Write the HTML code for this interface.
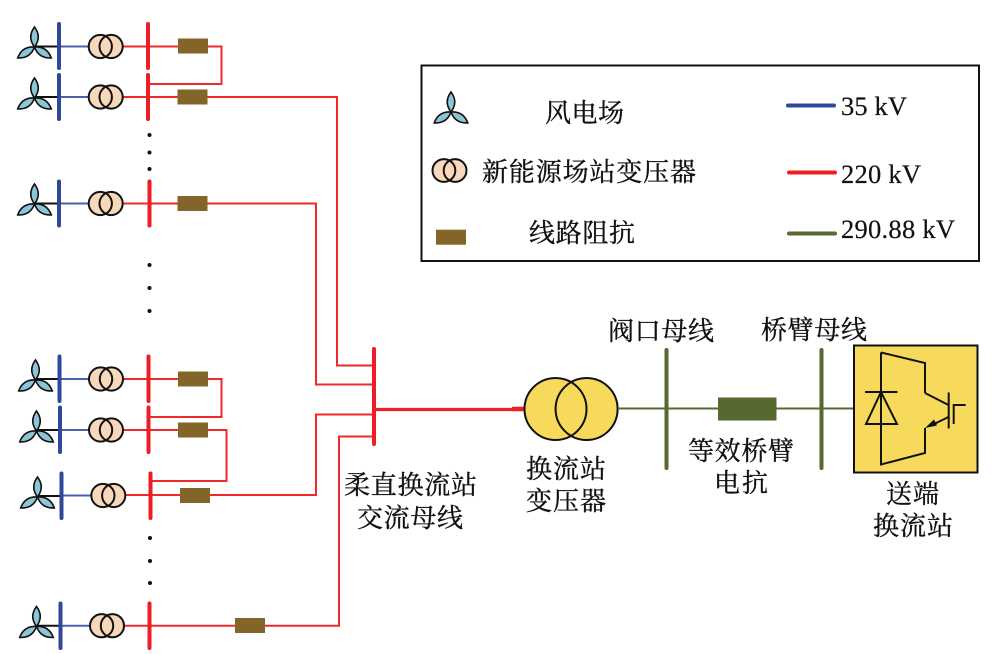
<!DOCTYPE html>
<html lang="zh">
<head>
<meta charset="utf-8">
<style>
html,body{margin:0;padding:0;background:#fff;width:997px;height:654px;overflow:hidden}
svg{display:block}
.cn{font-family:"Liberation Serif","Noto Serif CJK SC",serif;font-size:26px;fill:#111;stroke:#111;stroke-width:.35}
.en{font-family:"Liberation Serif","Noto Serif CJK SC",serif;font-size:26.5px;fill:#111;stroke:#111;stroke-width:.2}
.r{stroke:#ee2a2a;stroke-width:2;fill:none}
.rb{stroke:#ee1c25;stroke-width:4;stroke-linecap:round;fill:none}
.bb{stroke:#2f489c;stroke-width:4;stroke-linecap:round;fill:none}
.bt{stroke:#4a62ae;stroke-width:2;fill:none}
.k{stroke:#111;stroke-width:2;fill:none}
.ol{stroke:#56692f;stroke-width:2;fill:none}
.olb{stroke:#56692f;stroke-width:4;stroke-linecap:round;fill:none}
.box{fill:#83652a}
</style>
</head>
<body>
<svg width="997" height="654" viewBox="0 0 997 654" xmlns="http://www.w3.org/2000/svg">
<defs>
<g id="w">
  <g fill="#8cc5d6" stroke="#111" stroke-width="1.6">
    <path d="M0,0 Q-7.5,-10 0,-20 Q7.5,-10 0,0Z"/>
    <path d="M0,0 Q-7.5,-10 0,-20 Q7.5,-10 0,0Z" transform="rotate(-123)"/>
    <path d="M0,0 Q-7.5,-10 0,-20 Q7.5,-10 0,0Z" transform="rotate(123)"/>
  </g>
</g>
<g id="t">
  <circle cx="-5.4" cy="0" r="11.6" fill="#f8d8bb"/>
  <circle cx="5.4" cy="0" r="11.6" fill="#f8d8bb"/>
  <circle cx="-5.4" cy="0" r="11.6" fill="none" stroke="#111" stroke-width="2"/>
  <circle cx="5.4" cy="0" r="11.6" fill="none" stroke="#111" stroke-width="2"/>
</g>
</defs>

<!-- thin wires -->
<path class="r" d="M123,46.5H208H221.5V84H148"/>
<path class="r" d="M123,97H337V365.5H374"/>
<path class="r" d="M123,203.5H316V384.5H374"/>
<path class="r" d="M123,379H221.5V417H148"/>
<path class="r" d="M123,430H226.5V481H151"/>
<path class="r" d="M125,495H316V414.5H374"/>
<path class="r" d="M124,625.7H339V436.5H374"/>

<!-- row 1 -->
<path class="k" d="M34.5,46.5H59"/><path class="bt" d="M59,46.5H90"/>
<use href="#w" x="34.5" y="47"/><use href="#t" x="105.7" y="46.5"/>
<path class="bb" d="M59,24V68"/><path class="rb" d="M148,24V68"/>
<rect class="box" x="178" y="38.5" width="30" height="15"/>
<!-- row 2 -->
<path class="k" d="M34.5,97H59"/><path class="bt" d="M59,97H90"/>
<use href="#w" x="34.5" y="98"/><use href="#t" x="105.7" y="97"/>
<path class="bb" d="M59,75V119"/><path class="rb" d="M148,75V119"/>
<rect class="box" x="177.5" y="89.5" width="30" height="15"/>
<!-- row 3 -->
<path class="k" d="M34.5,203.5H59"/><path class="bt" d="M59,203.5H90"/>
<use href="#w" x="34.5" y="204"/><use href="#t" x="105.7" y="203.5"/>
<path class="bb" d="M59,181.5V225.5"/><path class="rb" d="M149.5,181.5V225.5"/>
<rect class="box" x="177.5" y="196" width="30" height="15"/>
<!-- row 4 -->
<path class="k" d="M35,379H59"/><path class="bt" d="M59,379H90"/>
<use href="#w" x="35.5" y="380"/><use href="#t" x="106" y="379"/>
<path class="bb" d="M59.5,356.5V401"/><path class="rb" d="M148.5,356.5V401"/>
<rect class="box" x="178" y="371.5" width="30" height="15"/>
<!-- row 5 -->
<path class="k" d="M36,430H60"/><path class="bt" d="M60,430H90"/>
<use href="#w" x="36.5" y="431"/><use href="#t" x="106" y="430"/>
<path class="bb" d="M60,407.5V452"/><path class="rb" d="M148.5,407.5V452"/>
<rect class="box" x="178" y="422.5" width="30" height="15"/>
<!-- row 6 -->
<path class="k" d="M37,496H61"/><path class="bt" d="M61,495.5H92"/>
<use href="#w" x="37.5" y="497"/><use href="#t" x="108.3" y="495.5"/>
<path class="bb" d="M61.5,473.5V518"/><path class="rb" d="M150.5,473.5V518"/>
<rect class="box" x="180" y="488" width="30" height="15"/>
<!-- row 7 -->
<path class="k" d="M36,625.7H60"/><path class="bt" d="M60,625.7H91"/>
<use href="#w" x="36.5" y="626.5"/><use href="#t" x="107" y="625.7"/>
<path class="bb" d="M60.5,603.5V648"/><path class="rb" d="M149.5,603.5V648"/>
<rect class="box" x="235" y="618" width="30" height="15"/>

<!-- dots -->
<g fill="#111">
  <circle cx="149.5" cy="135" r="2"/><circle cx="149.5" cy="152.5" r="2"/><circle cx="149.5" cy="169" r="2"/>
  <circle cx="149.5" cy="265" r="2"/><circle cx="149.5" cy="288" r="2"/><circle cx="149.5" cy="311" r="2"/>
  <circle cx="150" cy="538" r="2"/><circle cx="150" cy="561" r="2"/><circle cx="150" cy="583" r="2"/>
</g>

<!-- main bus -->
<path class="rb" d="M374,349V444"/>
<path d="M374,409.5H513" stroke="#ee2024" stroke-width="3.2" fill="none"/>
<path d="M512,409H526" stroke="#ee2024" stroke-width="4.5" fill="none"/>

<!-- converter transformer -->
<circle cx="555.5" cy="409" r="31" fill="#f7d95c"/>
<circle cx="586.6" cy="409" r="31" fill="#f7d95c"/>
<circle cx="555.5" cy="409" r="31" fill="none" stroke="#111" stroke-width="2"/>
<circle cx="586.6" cy="409" r="31" fill="none" stroke="#111" stroke-width="2"/>

<!-- olive -->
<path class="ol" d="M618,408.5H855"/>
<path class="olb" d="M666.5,350V468"/>
<path class="olb" d="M821.5,350V468"/>
<rect x="718" y="397.5" width="58.5" height="23" fill="#56692f"/>

<!-- converter -->
<rect x="854" y="345.5" width="123.5" height="127" fill="#f7d95c" stroke="#111" stroke-width="2"/>
<g fill="none" stroke="#111" stroke-width="2">
  <path d="M881,352.5V464.5L925,453V428M948.5,417L930,426M925,393V363L881,352.5M925,393L948.5,405"/>
  <path d="M865,392H897.5M881,392L866,424H897Z"/>
  <path d="M948.7,392.5V428.5"/>
  <path d="M953.7,424V405H965.7"/>
</g>
<path d="M925,428L934,419.5L937,425.5Z" fill="#111"/>

<!-- legend -->
<rect x="421.5" y="65.5" width="557.5" height="195.5" fill="none" stroke="#111" stroke-width="2"/>
<use href="#w" x="451" y="112"/>
<g transform="translate(449.5,170.5)">
  <circle cx="-5.6" cy="0" r="11.4" fill="#f8d8bb"/>
  <circle cx="5.6" cy="0" r="11.4" fill="#f8d8bb"/>
  <circle cx="-5.6" cy="0" r="11.4" fill="none" stroke="#111" stroke-width="2"/>
  <circle cx="5.6" cy="0" r="11.4" fill="none" stroke="#111" stroke-width="2"/>
</g>
<rect class="box" x="436" y="229.7" width="30" height="15"/>
<path d="M788,105.5H834" stroke="#2f489c" stroke-width="4" stroke-linecap="round"/>
<path d="M789,172.5H835" stroke="#ee1c25" stroke-width="4" stroke-linecap="round"/>
<path d="M789,233.5H835" stroke="#56692f" stroke-width="4" stroke-linecap="round"/>

<!-- legend text -->
<text class="cn" x="545" y="122" textLength="79">风电场</text>
<text class="cn" x="482" y="181" textLength="214">新能源场站变压器</text>
<text class="cn" x="529" y="242" textLength="106">线路阻抗</text>
<text class="en" x="841" y="115" textLength="66">35 kV</text>
<text class="en" x="841" y="183" textLength="80">220 kV</text>
<text class="en" x="841" y="238" textLength="114">290.88 kV</text>

<!-- labels -->
<text class="cn" x="608" y="340" textLength="106">阀口母线</text>
<text class="cn" x="761" y="339" textLength="106">桥臂母线</text>
<text class="cn" x="344" y="494" textLength="133">柔直换流站</text>
<text class="cn" x="357" y="527" textLength="106">交流母线</text>
<text class="cn" x="526" y="478" textLength="80">换流站</text>
<text class="cn" x="526" y="510" textLength="80">变压器</text>
<text class="cn" x="688" y="460" textLength="106">等效桥臂</text>
<text class="cn" x="714" y="492" textLength="54">电抗</text>
<text class="cn" x="886" y="503" textLength="53">送端</text>
<text class="cn" x="873" y="535" textLength="80">换流站</text>
</svg>
</body>
</html>
